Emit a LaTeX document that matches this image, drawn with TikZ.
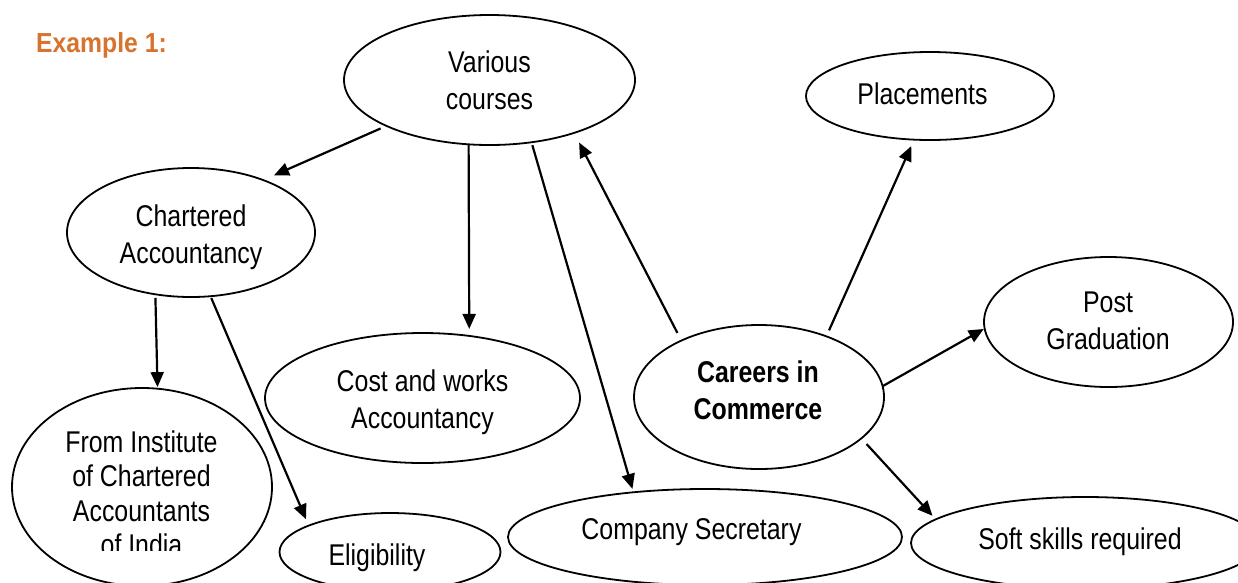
\documentclass[tikz,border=0pt]{standalone}
\usepackage{fontspec}
\setmainfont[FakeStretch=0.83]{Liberation Sans}
\newfontfamily\headfont[FakeStretch=0.9]{Liberation Sans}
\usetikzlibrary{shapes.geometric,arrows.meta}
\definecolor{headorange}{RGB}{215,115,45}
\begin{document}
\begin{tikzpicture}[x=1pt,y=-1pt,
  oval/.style={draw, ellipse, line width=1.8pt, inner sep=0pt, outer sep=0pt},
  txt/.style={align=center, font=\fontsize{30}{37}\selectfont, inner sep=0pt},
  conn/.style={line width=2.2pt, -{Triangle[length=15pt,width=13pt]}}]
\useasboundingbox (0,0) rectangle (1238,582);
\fill[white] (0,0) rectangle (1238,582);

\node[anchor=base west, inner sep=0pt, text=headorange,
      font=\headfont\bfseries\fontsize{27.5}{33}\selectfont] (ex) at (36,52) {Example 1:};

\node[oval, minimum width=291pt, minimum height=130pt] (vc) at (489.5,80) {};
\node[txt] (vct) at (489.5,80.3) {Various\\courses};

\node[oval, minimum width=248pt, minimum height=88pt] (pl) at (930,96) {};
\node[txt] (plt) at (922.5,94) {Placements};

\node[oval, minimum width=248pt, minimum height=129pt] (ca) at (191,232.5) {};
\node[txt] (cat) at (191,237) {Chartered\\Accountancy};

\node[oval, minimum width=249pt, minimum height=130pt] (pg) at (1108.5,322) {};
\node[txt] (pgt) at (1108,321) {Post\\Graduation};

\node[oval, minimum width=315pt, minimum height=130pt] (cw) at (422.5,398) {};
\node[txt] (cwt) at (422.5,402.4) {Cost and works\\Accountancy};

\node[oval, minimum width=250pt, minimum height=144pt] (cc) at (759,397) {};
\node[txt, font=\bfseries\fontsize{30}{37}\selectfont] (cct) at (758,390.75) {Careers in\\Commerce};

\node[oval, minimum width=260pt, minimum height=198pt] (fi) at (142,487) {};
\begin{scope}
  \clip (0,0) rectangle (300,550);
  \node[txt, font=\fontsize{30}{34.5}\selectfont] (fit) at (141.5,493.5)
    {From Institute\\of Chartered\\Accountants\\of India};
\end{scope}

\node[oval, minimum width=221pt, minimum height=78pt] (el) at (390,552) {};
\node[txt] (elt) at (377,557.4) {Eligibility};

\node[oval, minimum width=394pt, minimum height=96pt] (cs) at (705,537) {};
\node[txt] (cst) at (691.5,532.4) {Company Secretary};

\node[oval, minimum width=348pt, minimum height=92pt] (ss) at (1085,543) {};
\node[txt] (sst) at (1080,541.4) {Soft skills required};

\draw[conn, shorten <=6.4pt, shorten >=11.8pt] (vc.204.6) -- (ca.36.65);
\draw[conn, shorten <=0.6pt, shorten >=7pt] (vc.252.33) -- (cw.53.2);
\draw[conn, shorten <=3pt, shorten >=3.5pt] (vc.304.8) -- (cs.148.2);
\draw[conn, shorten <=8.7pt, shorten >=10.9pt] (cc.144.3) -- (vc.328.9);
\draw[conn, shorten <=6.6pt, shorten >=7pt] (cc.42.6) -- (pl.250.9);
\draw[conn, shorten <=0.5pt, shorten >=1pt] (cc.5) -- (pg.183.5);
\draw[conn, shorten <=7.8pt, shorten >=4.8pt] (cc.338.9) -- (ss.171.1);
\draw[conn, shorten <=3.6pt, shorten >=1.6pt] (ca.240.5) -- (fi.81.9);
\draw[conn, shorten <=2pt, shorten >=6.9pt] (ca.287.6) -- (el.162.9);
\end{tikzpicture}
\end{document}
